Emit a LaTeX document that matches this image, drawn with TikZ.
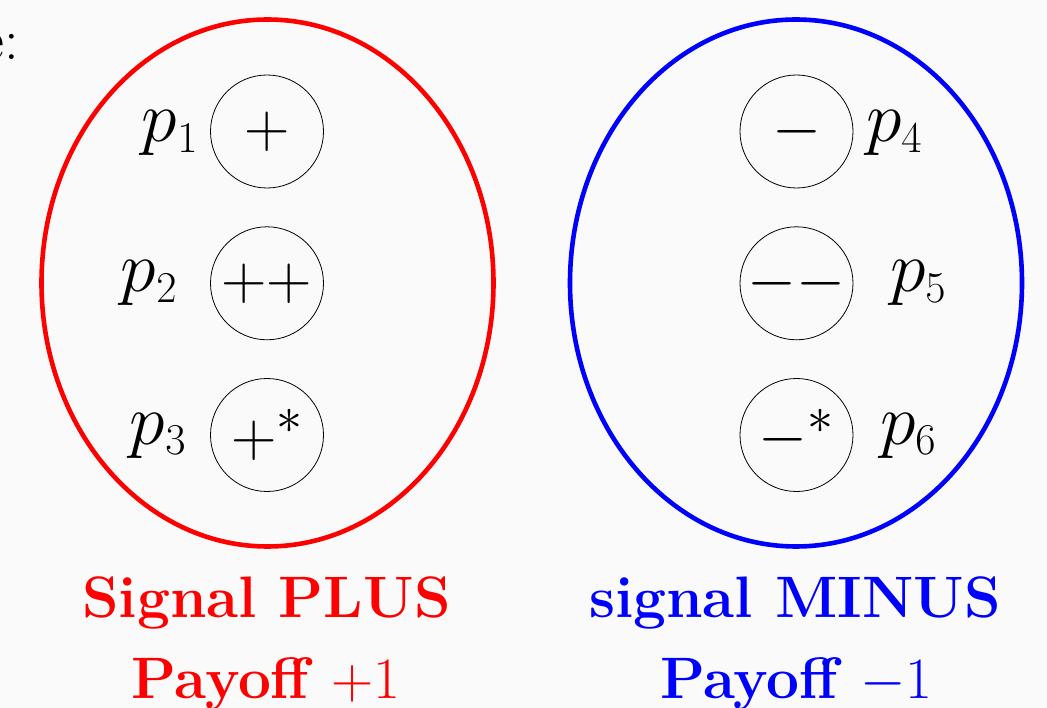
\RequirePackage{fix-cm}
\documentclass[tikz,border=0pt]{standalone}
\usetikzlibrary{shapes.geometric}
\DeclareMathSizes{58.5}{58.5}{50}{38}
\DeclareMathSizes{63}{63}{52}{40}
\DeclareMathSizes{72}{72}{44}{32}
\definecolor{pagebg}{RGB}{250,250,250}
\begin{document}
\begin{tikzpicture}[x=1pt,y=-1pt,
  every node/.style={inner sep=0pt, outer sep=0pt},
  setring/.style={ellipse, draw, line width=4.6pt, minimum width=452pt, minimum height=527pt},
  token/.style={circle, draw=black, line width=0.8pt, minimum size=113pt,
    font=\fontsize{63}{63}\selectfont},
  plabel/.style={font=\fontsize{72}{72}\selectfont},
  caption/.style={font=\fontsize{58.5}{58.5}\selectfont\bfseries},
]
\fill[pagebg] (0,0) rectangle (1047,708);
\useasboundingbox (0,0) rectangle (1047,708);

% leftover text from the line above
\node[anchor=base east, font=\fontsize{58.5}{58.5}\selectfont] (intro) at (19,60) {e:};

% the two groups
\node[setring, draw=red]  (plus)  at (267.5,283) {};
\node[setring, draw=blue] (minus) at (796,283) {};

% tokens of the PLUS group
\node[token] (t1) at (267,131.5) {$+$};
\node[token] (t2) at (267,283.3) {$++$};
\node[token] (t3) at (267,435)   {$+^*$};

% tokens of the MINUS group
\node[token] (t4) at (796.5,131.5) {$-$};
\node[token] (t5) at (796.5,283.3) {$--$};
\node[token] (t6) at (796.5,435)   {$-^*$};

% player labels
\node[plabel, anchor=base east] (p1) at (198,142) {$p_1$};
\node[plabel, anchor=base east] (p2) at (177,292) {$p_2$};
\node[plabel, anchor=base east] (p3) at (186,444) {$p_3$};
\node[plabel, anchor=base west] (p4) at (866,142) {$p_4$};
\node[plabel, anchor=base west] (p5) at (890,292) {$p_5$};
\node[plabel, anchor=base west] (p6) at (880,444) {$p_6$};

% captions
\node[caption, red, anchor=base]  (plusname)  at (266.5,617) {Signal PLUS};
\node[caption, red, anchor=base]  (pluspay)   at (266,698)   {Payoff $+1$};
\node[caption, blue, anchor=base] (minusname) at (795,617)   {signal MINUS};
\node[caption, blue, anchor=base] (minuspay)  at (796.5,698) {Payoff $-1$};
\end{tikzpicture}
\end{document}
